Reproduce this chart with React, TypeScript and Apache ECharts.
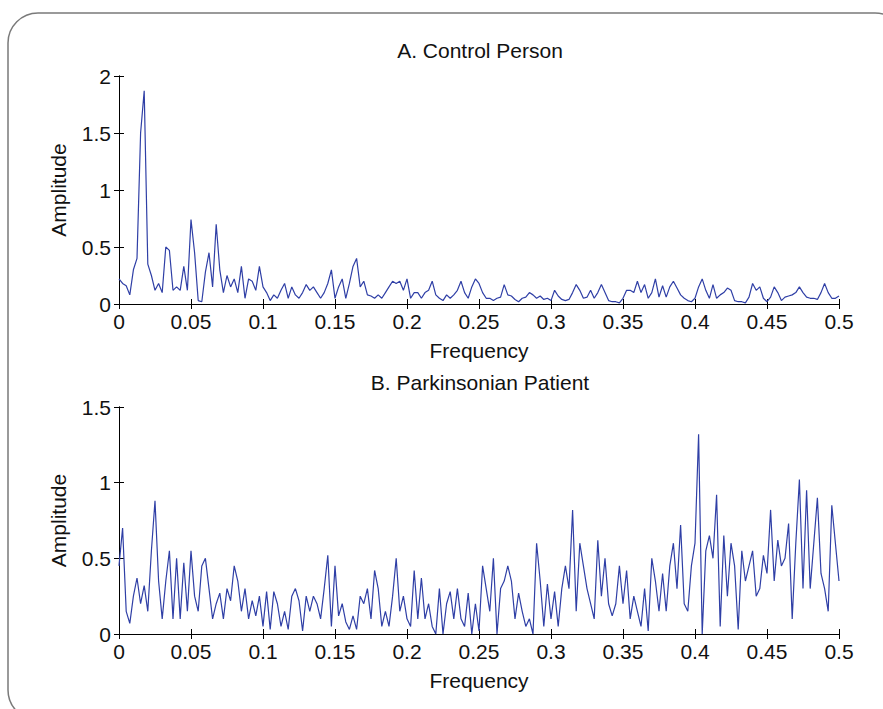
import React, { useEffect, useRef } from "react";
import * as echarts from "echarts";

const FREQ_STEP = 0.0025;
const TITLE_A = "A. Control Person";
const TITLE_B = "B. Parkinsonian Patient";

const ampA = [
  0.22, 0.18, 0.16, 0.08, 0.3, 0.4, 1.5, 1.87, 0.35, 0.25,
  0.12, 0.18, 0.1, 0.5, 0.47, 0.12, 0.15, 0.12, 0.33, 0.12,
  0.74, 0.45, 0.03, 0.02, 0.28, 0.45, 0.15, 0.7, 0.3, 0.1,
  0.25, 0.15, 0.22, 0.1, 0.33, 0.05, 0.22, 0.2, 0.12, 0.33,
  0.15, 0.1, 0.03, 0.08, 0.05, 0.12, 0.18, 0.05, 0.15, 0.08,
  0.05, 0.1, 0.17, 0.12, 0.15, 0.1, 0.05, 0.1, 0.18, 0.3,
  0.05, 0.15, 0.22, 0.05, 0.18, 0.33, 0.4, 0.15, 0.2, 0.08,
  0.07, 0.05, 0.08, 0.05, 0.1, 0.15, 0.2, 0.18, 0.2, 0.12,
  0.22, 0.05, 0.1, 0.1, 0.05, 0.1, 0.12, 0.2, 0.08, 0.05,
  0.03, 0.08, 0.05, 0.08, 0.12, 0.2, 0.1, 0.05, 0.15, 0.22,
  0.18, 0.1, 0.05, 0.05, 0.03, 0.05, 0.06, 0.17, 0.08, 0.07,
  0.04, 0.02, 0.05, 0.06, 0.1, 0.08, 0.05, 0.07, 0.04, 0.05,
  0.03, 0.12, 0.07, 0.04, 0.03, 0.04, 0.1, 0.17, 0.12, 0.05,
  0.06, 0.12, 0.05, 0.1, 0.17, 0.1, 0.03, 0.02, 0.02, 0.01,
  0.05, 0.12, 0.12, 0.1, 0.2, 0.1, 0.17, 0.05, 0.1, 0.22,
  0.06, 0.16, 0.06, 0.15, 0.2, 0.14, 0.08, 0.05, 0.03, 0.02,
  0.05, 0.15, 0.22, 0.12, 0.05, 0.17, 0.05, 0.08, 0.1, 0.14,
  0.12, 0.03, 0.02, 0.02, 0.01, 0.06, 0.18, 0.12, 0.15, 0.05,
  0.02, 0.06, 0.15, 0.1, 0.03, 0.06, 0.07, 0.08, 0.1, 0.15,
  0.1, 0.06, 0.05, 0.05, 0.04, 0.1, 0.18, 0.1, 0.05, 0.05, 0.07,
];

const ampB = [
  0.45, 0.7, 0.15, 0.07, 0.25, 0.37, 0.2, 0.32, 0.15, 0.55,
  0.88, 0.35, 0.1, 0.35, 0.55, 0.1, 0.5, 0.1, 0.47, 0.15,
  0.55, 0.25, 0.15, 0.45, 0.5, 0.3, 0.1, 0.2, 0.27, 0.1,
  0.3, 0.22, 0.45, 0.35, 0.15, 0.3, 0.1, 0.22, 0.12, 0.25,
  0.05, 0.28, 0.03, 0.28, 0.2, 0.05, 0.15, 0.03, 0.25, 0.3,
  0.22, 0.02, 0.25, 0.15, 0.25, 0.2, 0.1, 0.3, 0.52, 0.05,
  0.45, 0.12, 0.2, 0.08, 0.03, 0.12, 0.03, 0.25, 0.2, 0.3,
  0.1, 0.42, 0.3, 0.05, 0.15, 0.05, 0.25, 0.5, 0.15, 0.25,
  0.1, 0.05, 0.42, 0.1, 0.37, 0.1, 0.2, 0.05, 0.0, 0.3,
  0.0, 0.2, 0.28, 0.1, 0.3, 0.1, 0.05, 0.27, 0.0, 0.2,
  0.02, 0.45, 0.3, 0.15, 0.5, 0.0, 0.3, 0.35, 0.45, 0.35,
  0.1, 0.27, 0.15, 0.05, 0.1, 0.0, 0.6, 0.35, 0.05, 0.33,
  0.1, 0.28, 0.05, 0.3, 0.45, 0.3, 0.82, 0.15, 0.6, 0.45,
  0.3, 0.2, 0.1, 0.62, 0.25, 0.5, 0.2, 0.12, 0.2, 0.45,
  0.2, 0.42, 0.1, 0.25, 0.15, 0.05, 0.3, 0.02, 0.5, 0.35,
  0.15, 0.4, 0.15, 0.45, 0.6, 0.3, 0.72, 0.2, 0.15, 0.45,
  0.6, 1.32, 0.0, 0.55, 0.65, 0.5, 0.92, 0.05, 0.65, 0.25,
  0.6, 0.45, 0.03, 0.55, 0.35, 0.45, 0.55, 0.25, 0.3, 0.52,
  0.4, 0.82, 0.35, 0.62, 0.45, 0.5, 0.73, 0.1, 0.6, 1.02,
  0.3, 0.95, 0.3, 0.6, 0.9, 0.4, 0.3, 0.15, 0.85, 0.6, 0.35,
];

const FONT = "Liberation Sans";
const LINE_COLOR = "#2f3fa6";

function toPairs(vals: number[]) {
  return vals.map((v, i) => [+(i * FREQ_STEP).toFixed(5), v]);
}

export default function App() {
  const ref = useRef<HTMLDivElement>(null);
  useEffect(() => {
    if (!ref.current) return;
    const chart = echarts.init(ref.current, null, { renderer: "svg" });
    const tickStyle = { show: true, inside: true, length: 5, lineStyle: { color: "#000", width: 1 } };
    const labelStyle = { color: "#111", fontFamily: FONT, fontSize: 21 };
    const nameStyle = { color: "#111", fontFamily: FONT, fontSize: 21 };
    const grids = [
      { left: 119, top: 76, width: 720, height: 228 },
      { left: 119, top: 407, width: 720, height: 227 },
    ];
    const yMax = [2, 1.5];
    const xAxes: any[] = [];
    const yAxes: any[] = [];
    [0, 1].forEach((g) => {
      xAxes.push({
        type: "value", gridIndex: g, min: 0, max: 0.5, interval: 0.05, position: "bottom",
        axisLine: { show: true, lineStyle: { color: "#000", width: 1 } },
        axisTick: tickStyle, splitLine: { show: false },
        axisLabel: { ...labelStyle, margin: 7, formatter: (v: number) => String(+v.toFixed(2)) },
        name: "Frequency", nameLocation: "middle", nameGap: 36, nameTextStyle: nameStyle,
      });
      xAxes.push({
        type: "value", gridIndex: g, min: 0, max: 0.5, interval: 0.05, position: "top",
        axisLine: { show: true, lineStyle: { color: "#000", width: 1 } },
        axisTick: tickStyle, splitLine: { show: false }, axisLabel: { show: false },
      });
      yAxes.push({
        type: "value", gridIndex: g, min: 0, max: yMax[g], interval: 0.5, position: "left",
        axisLine: { show: true, lineStyle: { color: "#000", width: 1 } },
        axisTick: tickStyle, splitLine: { show: false },
        axisLabel: { ...labelStyle, margin: 8, formatter: (v: number) => String(+v.toFixed(2)) },
        name: "Amplitude", nameLocation: "middle", nameGap: 50, nameTextStyle: nameStyle,
      });
      yAxes.push({
        type: "value", gridIndex: g, min: 0, max: yMax[g], interval: 0.5, position: "right",
        axisLine: { show: true, lineStyle: { color: "#000", width: 1 } },
        axisTick: tickStyle, splitLine: { show: false }, axisLabel: { show: false },
      });
    });
    const titleStyle = { color: "#111", fontFamily: FONT, fontSize: 21, fontWeight: "normal" as const };
    chart.setOption({
      animation: false,
      backgroundColor: "#fff",
      title: [
        { text: TITLE_A, left: 475, top: 35, textAlign: "center", textStyle: titleStyle },
        { text: TITLE_B, left: 475, top: 367, textAlign: "center", textStyle: titleStyle },
      ],
      grid: grids,
      xAxis: xAxes,
      yAxis: yAxes,
      graphic: [
        {
          type: "rect", silent: true, z: -1,
          shape: { x: 8, y: 13, width: 897, height: 707, r: 30 },
          style: { fill: "none", stroke: "#7a7a7a", lineWidth: 1.5 },
        },
      ],
      series: [
        {
          type: "line", xAxisIndex: 0, yAxisIndex: 0, data: toPairs(ampA), showSymbol: false,
          lineStyle: { color: LINE_COLOR, width: 1.2 }, itemStyle: { color: LINE_COLOR },
        },
        {
          type: "line", xAxisIndex: 2, yAxisIndex: 2, data: toPairs(ampB), showSymbol: false,
          lineStyle: { color: LINE_COLOR, width: 1.2 }, itemStyle: { color: LINE_COLOR },
        },
      ],
    });
    return () => chart.dispose();
  }, []);
  return (
    <div
      ref={ref}
      style={{ position: "fixed", left: 0, top: 0, width: 883, height: 709, background: "#fff" }}
    />
  );
}
